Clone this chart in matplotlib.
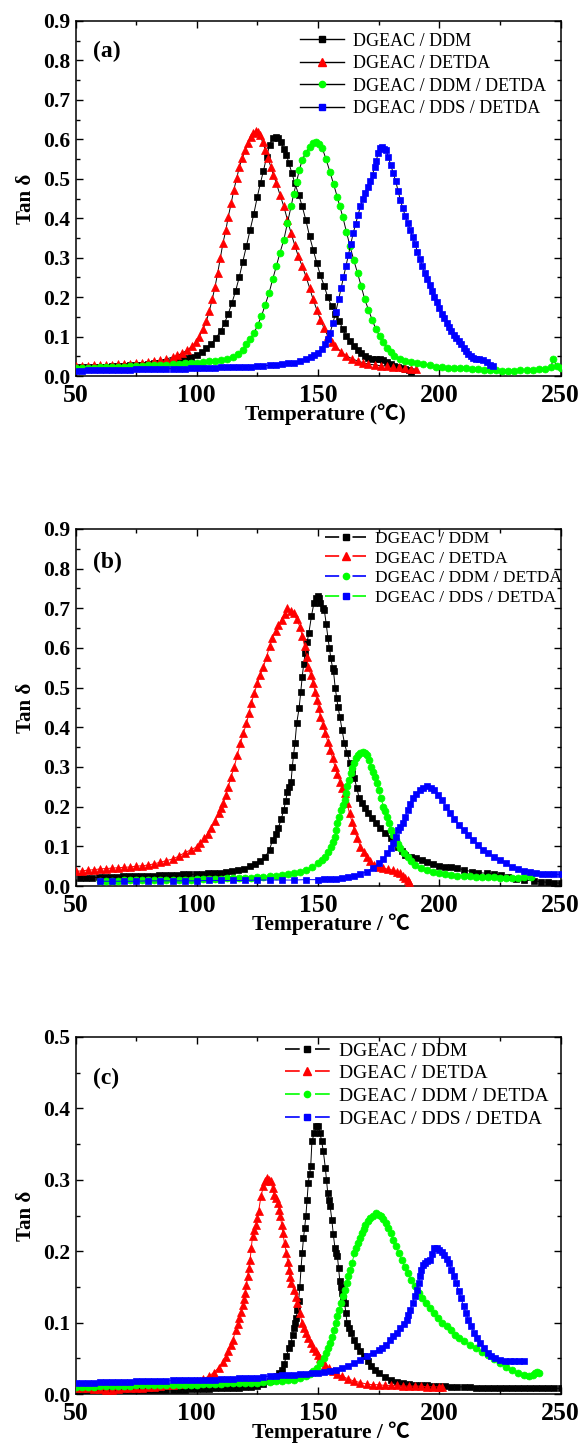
import matplotlib
matplotlib.use('Agg')
import matplotlib.pyplot as plt
from matplotlib.lines import Line2D
from matplotlib.legend_handler import HandlerTuple
from matplotlib.ticker import MultipleLocator, FormatStrFormatter

plt.rcParams['font.family'] = ['Liberation Serif', 'Noto Sans CJK SC', 'DejaVu Sans']
plt.rcParams['lines.scale_dashes'] = False

series_labels = ['DGEAC / DDM', 'DGEAC / DETDA', 'DGEAC / DDM / DETDA', 'DGEAC / DDS / DETDA']
series_colors = ['#000000', '#ff0000', '#00ff00', '#0000ff']
series_markers = ['s', '^', 'o', 's']
panel_tags = ['(a)', '(b)', '(c)']
x_labels = ['Temperature (\u2103)', 'Temperature / \u2103', 'Temperature / \u2103']
y_label = 'Tan \u03b4'
x_ticks = [50, 100, 150, 200, 250]

# ---------------- panel (a) ----------------
a_ddm = [(50,0.022),(52.5,0.022),(55,0.023),(57.5,0.023),(60,0.024),(62.5,0.024),(65,0.025),(67.5,0.026),(70,0.026),(72.5,0.027),(75,0.028),(77.5,0.029),(80,0.030),(82.5,0.032),(85,0.034),(87.5,0.036),(90,0.039),(92.5,0.042),(95,0.045),(97.5,0.049),(100,0.054),(102,0.060),(104,0.070),(106,0.082),(108,0.097),(110,0.115),(111.5,0.135),(113,0.158),(114.5,0.185),(116,0.215),(117.5,0.250),(119,0.290),(120.5,0.330),(122,0.370),(123.5,0.410),(125,0.455),(126.3,0.490),(127.5,0.520),(128.8,0.555),(130,0.585),(131.3,0.603),(132.5,0.606),(133.6,0.603),(134.8,0.592),(136,0.575),(137,0.560),(138,0.540),(139.2,0.515),(140.4,0.490),(142,0.460),(143.5,0.430),(145,0.395),(146.5,0.355),(148,0.320),(149.5,0.287),(151,0.255),(152.6,0.228),(154,0.200),(155.6,0.177),(157,0.158),(158.7,0.139),(160.2,0.120),(161.7,0.101),(163.2,0.088),(164.7,0.076),(166.3,0.066),(167.8,0.058),(169.3,0.051),(170.8,0.046),(172.3,0.043),(173.8,0.042),(175.4,0.044),(177,0.040),(178.5,0.035),(180,0.030),(181.5,0.026),(183,0.023),(184.5,0.020),(186,0.017),(187.5,0.014),(188.5,0.010)]
a_detda = [(50,0.025),(52.5,0.026),(55,0.026),(57.5,0.027),(60,0.027),(62.5,0.028),(65,0.029),(67.5,0.030),(70,0.030),(72.5,0.031),(75,0.032),(77.5,0.034),(80,0.035),(82.5,0.037),(85,0.040),(87.5,0.043),(90,0.048),(92,0.052),(94,0.058),(96,0.065),(98,0.075),(99.5,0.085),(101,0.100),(102.5,0.118),(104,0.140),(105.2,0.165),(106.4,0.195),(107.5,0.225),(108.6,0.260),(109.7,0.298),(110.8,0.337),(112,0.370),(113,0.404),(114.2,0.438),(115.3,0.472),(116.5,0.502),(117.6,0.531),(118.8,0.553),(120,0.573),(121.1,0.590),(122.2,0.607),(123.4,0.617),(124.5,0.622),(125.3,0.618),(126.2,0.610),(127.2,0.592),(128.3,0.573),(129.4,0.552),(130.5,0.531),(131.6,0.510),(132.8,0.489),(134.3,0.460),(135.9,0.430),(137.4,0.396),(138.9,0.362),(140.4,0.332),(141.9,0.303),(143.5,0.278),(145,0.253),(146.5,0.224),(148,0.194),(149.5,0.168),(151,0.143),(152.5,0.121),(154.1,0.101),(155.6,0.087),(157.1,0.076),(159.4,0.062),(161.7,0.051),(164,0.044),(166.3,0.038),(168.5,0.034),(170.8,0.030),(173.5,0.028),(176,0.026),(178.5,0.025),(181,0.024),(183.5,0.023),(186,0.021),(188.5,0.019),(190.6,0.017)]
a_ddm_detda = [(50,0.020),(52.5,0.020),(55,0.021),(57.5,0.021),(60,0.022),(62.5,0.022),(65,0.023),(67.5,0.023),(70,0.024),(72.5,0.025),(75,0.025),(77.5,0.026),(80,0.027),(82.5,0.028),(85,0.028),(87.5,0.029),(90,0.030),(92.5,0.031),(95,0.032),(97.5,0.033),(100,0.034),(102.5,0.035),(105,0.037),(107.5,0.039),(110,0.041),(112.5,0.043),(115,0.048),(117,0.056),(119,0.067),(120.5,0.080),(122,0.093),(123.7,0.110),(125.2,0.130),(126.7,0.152),(128.2,0.180),(129.8,0.210),(131.3,0.245),(132.8,0.278),(134.3,0.312),(135.9,0.345),(137.4,0.388),(138.9,0.430),(140,0.462),(141.2,0.493),(142.3,0.522),(143.5,0.548),(145,0.566),(146.5,0.581),(147.8,0.590),(149,0.594),(150.4,0.589),(151.8,0.577),(153.3,0.550),(154.9,0.518),(156.4,0.487),(157.9,0.455),(159,0.430),(160.2,0.404),(161.7,0.366),(163.2,0.329),(164.7,0.295),(166.3,0.261),(167.8,0.228),(169.3,0.194),(170.8,0.168),(172.3,0.143),(173.8,0.120),(175.4,0.101),(176.9,0.085),(178.4,0.072),(180,0.061),(181.5,0.051),(183.8,0.044),(186,0.038),(188.5,0.035),(191,0.032),(193.5,0.030),(196,0.027),(198.5,0.024),(201,0.022),(203.5,0.021),(206,0.021),(208.5,0.021),(211,0.020),(213.5,0.019),(216,0.017),(218.5,0.016),(221,0.015),(223.5,0.014),(226,0.013),(228.5,0.013),(231,0.013),(233.5,0.014),(236,0.015),(238.5,0.016),(241,0.017),(243.5,0.017),(246,0.022),(247,0.042),(248.5,0.025),(250,0.021)]
a_dds_detda = [(50,0.013),(52.5,0.013),(55,0.014),(57.5,0.014),(60,0.015),(62.5,0.015),(65,0.015),(67.5,0.016),(70,0.016),(72.5,0.016),(75,0.017),(77.5,0.017),(80,0.017),(82.5,0.018),(85,0.018),(87.5,0.018),(90,0.019),(92.5,0.019),(95,0.019),(97.5,0.020),(100,0.020),(102.5,0.020),(105,0.021),(107.5,0.021),(110,0.022),(112.5,0.022),(115,0.023),(117.5,0.023),(120,0.024),(122.5,0.024),(125,0.025),(127.5,0.026),(130,0.027),(132.5,0.028),(135,0.030),(137.5,0.032),(140,0.034),(142.5,0.038),(145,0.043),(147,0.048),(148.5,0.053),(150,0.059),(151.5,0.068),(153,0.082),(154,0.095),(155,0.110),(156.2,0.135),(157.3,0.162),(158.5,0.194),(159.5,0.222),(160.5,0.250),(161.5,0.278),(162.5,0.306),(163.5,0.334),(164.5,0.362),(165.5,0.385),(166.5,0.408),(167.5,0.430),(168.5,0.448),(169.5,0.465),(170.5,0.480),(171.5,0.495),(172.5,0.510),(173.3,0.530),(174,0.545),(174.8,0.565),(175.5,0.578),(176.5,0.580),(177.3,0.576),(178,0.573),(179,0.555),(180,0.535),(181,0.515),(182,0.495),(183,0.470),(184,0.445),(185,0.425),(186,0.405),(187,0.388),(188,0.370),(189,0.352),(190,0.335),(191,0.315),(192,0.297),(193,0.278),(194,0.262),(195,0.245),(196,0.230),(197,0.215),(198,0.200),(199,0.187),(200,0.172),(201,0.158),(202,0.146),(203,0.135),(204,0.124),(205,0.114),(206,0.105),(207,0.096),(208,0.088),(209,0.080),(210,0.072),(211,0.064),(212,0.056),(213,0.050),(214,0.046),(215,0.044),(216.5,0.042),(218,0.040),(219.5,0.035),(221,0.028),(222,0.025)]

# ---------------- panel (b) ----------------
b_ddm = [(52,0.020),(54.5,0.021),(57,0.021),(59.5,0.022),(62,0.022),(64.5,0.023),(67,0.023),(69.5,0.024),(72,0.024),(74.5,0.025),(77,0.025),(79.5,0.026),(82,0.026),(84.5,0.027),(87,0.027),(89.5,0.028),(92,0.028),(94.5,0.029),(97,0.029),(99.5,0.030),(102,0.031),(104.5,0.032),(107,0.033),(109.5,0.034),(112,0.036),(114.5,0.038),(117,0.041),(119.5,0.044),(122,0.050),(124,0.055),(126,0.062),(128.3,0.074),(130,0.092),(131.3,0.116),(132.5,0.130),(133.6,0.146),(134.8,0.168),(135.9,0.192),(136.7,0.215),(137.4,0.238),(138.2,0.250),(138.9,0.263),(139.4,0.300),(139.9,0.330),(140.5,0.360),(141.2,0.410),(142.2,0.448),(142.9,0.490),(143.5,0.528),(144.1,0.560),(144.7,0.587),(145.5,0.615),(146.2,0.637),(147.3,0.680),(148.3,0.713),(149,0.725),(149.8,0.730),(150.5,0.725),(151,0.713),(152,0.700),(152.6,0.696),(153.4,0.660),(154.1,0.625),(154.7,0.600),(155.3,0.574),(156,0.550),(156.4,0.541),(157.1,0.499),(157.7,0.475),(158.2,0.452),(159,0.427),(159.9,0.394),(160.9,0.360),(162,0.335),(163.2,0.310),(164.1,0.290),(165,0.272),(166,0.247),(167,0.221),(168,0.208),(169.3,0.196),(170.8,0.183),(172.3,0.171),(173.8,0.158),(175.4,0.146),(177.7,0.133),(180,0.120),(181.5,0.110),(183,0.099),(184.5,0.089),(186,0.078),(188.3,0.074),(190.6,0.070),(193,0.065),(195.1,0.061),(197.5,0.056),(200,0.051),(202.5,0.048),(205,0.047),(207.3,0.045),(210,0.041),(213.4,0.036),(216,0.034),(219.5,0.032),(222.5,0.030),(225.5,0.028),(228.5,0.022),(231.6,0.017),(235,0.015),(239.2,0.013),(242,0.011),(245,0.009),(247.5,0.008),(250,0.007)]
b_detda = [(50,0.037),(52.5,0.038),(55,0.040),(57.5,0.041),(60,0.043),(62.5,0.044),(65,0.045),(67.5,0.046),(70,0.047),(72.5,0.048),(75,0.050),(77.5,0.051),(80,0.053),(82.5,0.056),(85,0.060),(87.5,0.064),(90,0.068),(92.5,0.075),(95,0.084),(97.5,0.091),(100,0.099),(101.5,0.108),(103,0.120),(104.5,0.132),(106,0.146),(107.5,0.163),(109,0.183),(110,0.196),(111,0.209),(112,0.230),(113,0.250),(114.2,0.276),(115.5,0.301),(116.7,0.330),(118,0.360),(119.2,0.385),(120.5,0.410),(121.5,0.435),(122.5,0.461),(123.7,0.486),(125,0.511),(126.2,0.532),(127.5,0.553),(128.8,0.578),(130,0.604),(131.2,0.624),(132.5,0.642),(133.7,0.657),(135,0.671),(136.2,0.686),(137.4,0.700),(138.7,0.694),(140,0.688),(141.2,0.672),(142.5,0.654),(143.5,0.630),(144.5,0.604),(145.3,0.578),(146,0.553),(147,0.532),(148,0.511),(148.8,0.490),(149.5,0.469),(150.3,0.448),(151,0.427),(152,0.406),(153,0.385),(154,0.364),(155,0.343),(156,0.322),(157,0.301),(158,0.282),(159,0.263),(160,0.248),(161,0.234),(162,0.208),(163,0.183),(164,0.162),(165,0.141),(166.2,0.120),(167.5,0.099),(168.8,0.086),(170,0.074),(171.5,0.063),(173,0.053),(175,0.049),(177,0.045),(179,0.042),(181,0.040),(182.5,0.036),(184,0.032),(185,0.026),(186,0.019),(187,0.014),(187.5,0.011)]
b_ddm_detda = [(60,0.013),(62.5,0.013),(65,0.013),(67.5,0.013),(70,0.014),(72.5,0.014),(75,0.014),(77.5,0.014),(80,0.015),(82.5,0.015),(85,0.015),(87.5,0.015),(90,0.016),(92.5,0.016),(95,0.016),(97.5,0.016),(100,0.017),(102.5,0.017),(105,0.017),(107.5,0.018),(110,0.018),(112.5,0.019),(115,0.019),(117.5,0.020),(120,0.020),(122.5,0.021),(125,0.022),(127.5,0.023),(130,0.024),(132.5,0.026),(135,0.028),(137.5,0.030),(140,0.032),(142.5,0.036),(145,0.040),(147.5,0.047),(150,0.057),(151.5,0.065),(153,0.074),(154.3,0.086),(155.5,0.099),(156.3,0.112),(157,0.124),(157.5,0.141),(158,0.158),(158.8,0.175),(159.5,0.192),(160.2,0.205),(161,0.217),(161.5,0.234),(162,0.251),(162.8,0.268),(163.5,0.284),(164.2,0.297),(165,0.310),(165.7,0.322),(166.5,0.331),(167.5,0.336),(168.5,0.339),(169.3,0.336),(170,0.331),(171,0.318),(172,0.301),(172.8,0.288),(173.5,0.276),(174.3,0.259),(175,0.242),(176,0.221),(177,0.200),(177.8,0.188),(178.5,0.175),(179.3,0.158),(180,0.141),(181,0.128),(182,0.116),(183,0.105),(184,0.095),(185.5,0.084),(187,0.074),(188.5,0.063),(190,0.053),(192.5,0.046),(195,0.040),(197.5,0.036),(200,0.032),(202.5,0.030),(205,0.028),(207.5,0.026),(210,0.025),(212.5,0.024),(215,0.023),(217.5,0.023),(220,0.022),(222.5,0.022),(225,0.021),(227.5,0.021),(230,0.021),(232.5,0.021),(235,0.022),(238,0.022)]
b_dds_detda = [(60,0.012),(65,0.012),(70,0.012),(75,0.012),(80,0.013),(85,0.013),(90,0.013),(95,0.013),(100,0.013),(105,0.014),(110,0.014),(115,0.014),(120,0.014),(125,0.015),(130,0.015),(135,0.015),(140,0.015),(145,0.016),(150,0.016),(152.5,0.017),(155,0.017),(157.5,0.018),(160,0.019),(162.5,0.022),(165,0.025),(167.5,0.030),(170,0.036),(172.5,0.045),(175,0.057),(176.8,0.068),(178.5,0.082),(180,0.095),(181,0.108),(182,0.124),(183,0.141),(184,0.150),(185,0.158),(186,0.175),(187,0.192),(188,0.207),(189,0.221),(190.5,0.232),(192,0.242),(193.5,0.248),(195,0.251),(196.5,0.248),(198,0.242),(199.5,0.230),(201,0.217),(202.8,0.200),(204.5,0.183),(206.2,0.168),(208,0.154),(210,0.141),(212,0.129),(214,0.116),(216,0.103),(218,0.092),(220,0.082),(222.5,0.074),(225,0.066),(227.5,0.057),(230,0.049),(232.5,0.043),(235,0.038),(237.5,0.035),(240,0.032),(242.5,0.031),(245,0.030),(247.5,0.029),(250,0.029)]

# ---------------- panel (c) ----------------
c_ddm = [(50,0.005),(52.5,0.005),(55,0.005),(57.5,0.005),(60,0.005),(62.5,0.005),(65,0.005),(67.5,0.005),(70,0.005),(72.5,0.005),(75,0.005),(77.5,0.006),(80,0.006),(82.5,0.006),(85,0.006),(87.5,0.006),(90,0.006),(92.5,0.006),(95,0.006),(97.5,0.007),(100,0.007),(102.5,0.007),(105,0.007),(107.5,0.008),(110,0.008),(112.5,0.008),(115,0.009),(117.5,0.009),(120,0.010),(122.5,0.010),(125,0.011),(127.5,0.014),(130,0.018),(131.5,0.021),(133,0.025),(134,0.029),(135,0.034),(136,0.042),(137,0.053),(138,0.064),(138.8,0.071),(139.5,0.082),(140,0.093),(140.5,0.100),(141,0.106),(141.5,0.118),(142,0.130),(142.5,0.150),(143,0.176),(143.5,0.198),(144,0.218),(144.5,0.233),(145,0.249),(145.5,0.272),(146,0.296),(146.5,0.308),(147,0.319),(147.5,0.354),(148.5,0.366),(149.3,0.376),(150,0.375),(150.8,0.366),(151.5,0.354),(152.2,0.340),(153,0.317),(153.5,0.300),(154,0.282),(154.5,0.272),(155,0.263),(155.7,0.244),(156.3,0.224),(157,0.204),(157.5,0.198),(158,0.193),(158.5,0.176),(159,0.158),(159.5,0.150),(160,0.141),(160.5,0.134),(161,0.127),(161.5,0.113),(162,0.099),(162.7,0.092),(163.5,0.085),(164.7,0.076),(166,0.067),(167.5,0.060),(169,0.053),(170.5,0.046),(172,0.039),(173.5,0.034),(175,0.029),(177.5,0.024),(180,0.020),(182.5,0.017),(185,0.015),(187.5,0.014),(190,0.013),(192.5,0.012),(195,0.012),(197.5,0.011),(200,0.011),(202.5,0.011),(205,0.010),(207.5,0.010),(210,0.010),(212.5,0.010),(215,0.009),(217.5,0.009),(220,0.009),(222.5,0.009),(225,0.009),(227.5,0.009),(230,0.009),(232.5,0.008),(235,0.008),(237.5,0.008),(240,0.008),(242.5,0.008),(245,0.008),(247.5,0.008),(250,0.008)]
c_detda = [(50,0.008),(52.5,0.008),(55,0.008),(57.5,0.007),(60,0.007),(62.5,0.006),(65,0.005),(67.5,0.007),(70,0.008),(72.5,0.008),(75,0.009),(77.5,0.009),(80,0.010),(82.5,0.010),(85,0.011),(87.5,0.012),(90,0.013),(92.5,0.014),(95,0.015),(97.5,0.016),(100,0.018),(102.5,0.021),(105,0.025),(107,0.030),(109,0.037),(111,0.045),(112,0.052),(113,0.060),(114,0.068),(115,0.076),(116,0.090),(117,0.098),(117.5,0.106),(118.3,0.115),(119,0.125),(119.5,0.133),(120,0.141),(120.5,0.153),(121,0.165),(121.5,0.176),(122,0.188),(122.5,0.205),(123,0.221),(123.8,0.229),(124.5,0.237),(125,0.246),(125.5,0.256),(126.5,0.277),(127.5,0.291),(128.3,0.298),(129,0.303),(129.8,0.300),(130.5,0.298),(131.3,0.288),(132,0.279),(132.8,0.274),(133.5,0.268),(134,0.258),(134.5,0.249),(135,0.237),(135.5,0.225),(136.2,0.211),(137,0.197),(137.5,0.185),(138,0.174),(138.5,0.164),(139,0.155),(140,0.146),(140.8,0.136),(141.5,0.127),(142.5,0.113),(143.5,0.099),(144.3,0.092),(145,0.085),(146,0.078),(147,0.071),(148,0.065),(149,0.060),(150,0.055),(151,0.050),(152,0.045),(153,0.041),(154.5,0.036),(156,0.032),(158,0.028),(160,0.025),(162.5,0.021),(165,0.018),(167.5,0.016),(170,0.014),(172.5,0.013),(175,0.013),(177.5,0.012),(180,0.012),(182.5,0.012),(185,0.011),(187.5,0.011),(190,0.011),(192.5,0.011),(195,0.010),(197.5,0.010),(200,0.010),(201,0.010)]
c_ddm_detda = [(50,0.010),(52.5,0.010),(55,0.010),(57.5,0.010),(60,0.011),(62.5,0.011),(65,0.011),(67.5,0.011),(70,0.011),(72.5,0.011),(75,0.012),(77.5,0.012),(80,0.012),(82.5,0.012),(85,0.012),(87.5,0.012),(90,0.013),(92.5,0.013),(95,0.013),(97.5,0.013),(100,0.013),(102.5,0.014),(105,0.014),(107.5,0.014),(110,0.014),(112.5,0.015),(115,0.015),(117.5,0.015),(120,0.016),(122.5,0.016),(125,0.016),(127.5,0.017),(130,0.017),(132.5,0.018),(135,0.018),(137.5,0.019),(140,0.020),(142.5,0.022),(145,0.025),(146.5,0.028),(148,0.032),(149.5,0.037),(151,0.043),(152.3,0.050),(153.5,0.057),(154.3,0.064),(155,0.071),(155.8,0.080),(156.5,0.090),(157.3,0.100),(158,0.109),(158.8,0.118),(159.5,0.127),(160.3,0.137),(161,0.146),(161.8,0.155),(162.5,0.165),(163.3,0.174),(164,0.183),(165,0.197),(165.8,0.204),(166.5,0.211),(167.3,0.218),(168,0.225),(168.8,0.231),(169.5,0.237),(170.5,0.242),(171.5,0.246),(172.8,0.250),(174,0.253),(175,0.251),(176,0.249),(177,0.245),(178,0.240),(179,0.233),(180,0.225),(181,0.216),(182,0.207),(183.2,0.198),(184.5,0.188),(185.7,0.178),(187,0.169),(188.5,0.160),(190,0.151),(191.5,0.142),(193,0.134),(194.5,0.127),(196,0.120),(197.7,0.113),(199.5,0.106),(201.2,0.100),(203,0.095),(204.8,0.089),(206.5,0.083),(208.2,0.078),(210,0.074),(212.5,0.069),(215,0.064),(217.5,0.059),(220,0.055),(222.5,0.049),(225,0.043),(227.5,0.038),(230,0.034),(232.5,0.030),(235,0.026),(237,0.025),(238.5,0.027),(239.5,0.030),(240.5,0.031),(241,0.029)]
c_dds_detda = [(50,0.016),(52.5,0.016),(55,0.016),(57.5,0.016),(60,0.017),(62.5,0.017),(65,0.017),(67.5,0.017),(70,0.017),(72.5,0.017),(75,0.018),(77.5,0.018),(80,0.018),(82.5,0.018),(85,0.018),(87.5,0.018),(90,0.019),(92.5,0.019),(95,0.019),(97.5,0.019),(100,0.019),(102.5,0.020),(105,0.020),(107.5,0.020),(110,0.021),(112.5,0.021),(115,0.021),(117.5,0.022),(120,0.022),(122.5,0.023),(125,0.023),(127.5,0.024),(130,0.025),(132.5,0.025),(135,0.026),(137.5,0.026),(140,0.027),(142.5,0.028),(145,0.028),(147.5,0.029),(150,0.030),(152.5,0.031),(155,0.032),(157.5,0.034),(160,0.036),(162.5,0.039),(165,0.043),(167.5,0.048),(170,0.053),(172.5,0.058),(175,0.062),(176.5,0.065),(178,0.069),(179.5,0.075),(181,0.081),(182.5,0.086),(184,0.092),(185.3,0.098),(186.5,0.104),(187.3,0.111),(188,0.118),(189,0.128),(190,0.137),(190.8,0.146),(191.5,0.155),(192,0.165),(192.5,0.174),(193.3,0.180),(194,0.183),(195,0.186),(196,0.188),(197,0.196),(198,0.204),(199,0.204),(200,0.202),(201,0.199),(202,0.195),(203,0.189),(204,0.183),(205,0.174),(206,0.165),(207,0.155),(208,0.144),(209,0.134),(210,0.123),(211,0.114),(212,0.104),(213.2,0.095),(214.5,0.085),(215.7,0.078),(217,0.071),(218.5,0.064),(220,0.057),(221.5,0.053),(223,0.050),(225,0.048),(227,0.046),(229,0.046),(231,0.046),(233,0.046),(235,0.046)]

panel_data = [
    [a_ddm, a_detda, a_ddm_detda, a_dds_detda],
    [b_ddm, b_detda, b_ddm_detda, b_dds_detda],
    [c_ddm, c_detda, c_ddm_detda, c_dds_detda],
]
y_max = [0.9, 0.9, 0.5]
# line colours used in each panel's legend (as in the original figure)
legend_line_colors = [
    ['#000000', '#000000', '#000000', '#000000'],
    ['#000000', '#ff0000', '#0000ff', '#00ff00'],
    ['#000000', '#ff0000', '#00ff00', '#0000ff'],
]

W, H = 579, 1443
fig = plt.figure(figsize=(W / 100, H / 100), dpi=100)

ax_left = 75.5 / W
ax_w = 485 / W
panel_px = [(21, 376), (529, 886), (1037, 1394)]
legend_cfg = [
    dict(anchor=(0.462, 0.967), size=13, spacing=0.30, hl=2.45, gap=0),
    dict(anchor=(0.514, 0.995), size=12.5, spacing=0.20, hl=2.4, gap=9.6),
    dict(anchor=(0.432, 0.986), size=14, spacing=0.26, hl=2.3, gap=11.0),
]
tag_y = [0.913, 0.905, 0.885]
xlabel_x = [0.516, 0.527, 0.527]

for i in range(3):
    top, bot = panel_px[i]
    ax = fig.add_axes([ax_left, 1 - bot / H, ax_w, (bot - top) / H])
    for j, data in enumerate(panel_data[i]):
        xs = [p[0] for p in data]
        ys = [p[1] for p in data]
        lc = '#000000' if i == 0 else series_colors[j]
        ax.plot(xs, ys, color=lc, lw=0.7, marker=series_markers[j],
                ms=5.0 if series_markers[j] != '^' else 5.6,
                mfc=series_colors[j], mec=series_colors[j], mew=0.5, zorder=2 + j)
    ax.set_xlim(50, 250)
    ax.set_ylim(0, y_max[i])
    ax.set_xticks(x_ticks)
    ax.xaxis.set_minor_locator(MultipleLocator(25))
    ax.yaxis.set_major_locator(MultipleLocator(0.1))
    ax.yaxis.set_minor_locator(MultipleLocator(0.05))
    ax.yaxis.set_major_formatter(FormatStrFormatter('%.1f'))
    ax.tick_params(which='both', direction='in', top=True, right=True, width=1.0)
    ax.tick_params(which='major', length=5)
    ax.tick_params(which='minor', length=3)
    ax.tick_params(axis='x', which='major', labelsize=18.5, pad=5.5)
    ax.tick_params(axis='y', which='major', labelsize=15.5, pad=4)
    for lab in ax.get_xticklabels() + ax.get_yticklabels():
        lab.set_fontweight('bold')
    for sp in ax.spines.values():
        sp.set_linewidth(1.1)
    ax.set_ylabel(y_label, fontsize=15, fontweight='bold', labelpad=5)
    ax.set_xlabel(x_labels[i], fontsize=15.5, fontweight='bold', labelpad=-2)
    ax.xaxis.label.set_x(xlabel_x[i])
    ax.text(0.036, tag_y[i], panel_tags[i], transform=ax.transAxes,
            fontsize=17, fontweight='bold', va='center', ha='left')

    cfg = legend_cfg[i]
    L = cfg['hl'] * cfg['size']
    handles = []
    for j in range(4):
        mk = Line2D([], [], linestyle='none', marker=series_markers[j],
                    ms=4.5 if series_markers[j] != '^' else 5.5,
                    mfc=series_colors[j], mec=series_colors[j])
        if cfg['gap'] > 0:
            seg = (L - cfg['gap']) / 2.0
            ln = Line2D([], [], color=legend_line_colors[i][j], lw=1.2,
                        linestyle=(0, (seg, cfg['gap'], seg, 100)))
        else:
            ln = Line2D([], [], color=legend_line_colors[i][j], lw=1.0)
        handles.append((ln, mk))
    ax.legend(handles, series_labels, loc='upper left', bbox_to_anchor=cfg['anchor'],
              frameon=False, prop={'family': ['Liberation Serif'], 'size': cfg['size']},
              labelspacing=cfg['spacing'], handlelength=cfg['hl'], handletextpad=0.5,
              borderpad=0, borderaxespad=0, numpoints=1,
              handler_map={tuple: HandlerTuple(ndivide=1, pad=0)})

fig.savefig('out.png', dpi=100)
